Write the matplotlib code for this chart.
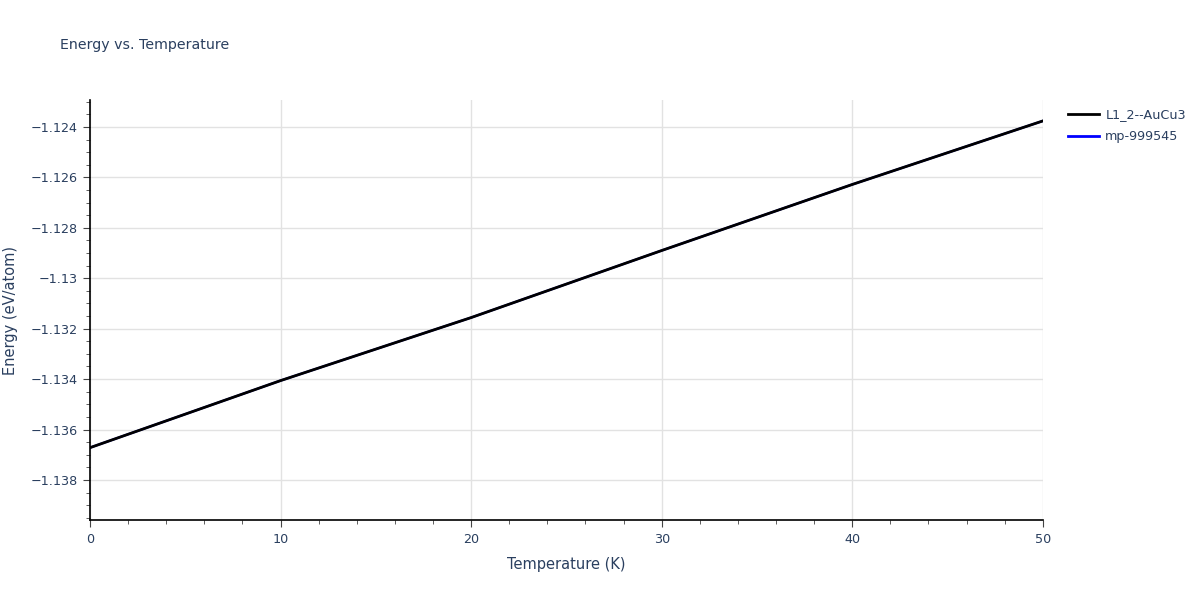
import matplotlib
matplotlib.use("Agg")
import matplotlib.pyplot as plt
from matplotlib.ticker import MultipleLocator, FuncFormatter

# values
temps = [0, 10, 20, 30, 40, 50]
energy_aucu3 = [-1.13672, -1.13406, -1.13156, -1.12890, -1.12628, -1.12376]
energy_mp = [-1.13672, -1.13406, -1.13156, -1.12890, -1.12628, -1.12376]

txt = "#2a3f5f"
plt.rcParams['font.family'] = ['DejaVu Sans']

fig = plt.figure(figsize=(12, 6), dpi=100)
ax = fig.add_axes([0.075, 0.1333, 0.794, 0.7])

ax.plot(temps, energy_mp, c='blue', lw=1.6, label='mp-999545', zorder=3)
ax.plot(temps, energy_aucu3, c='black', lw=2, label='L1_2--AuCu3', zorder=4)

ax.set_xlim(0, 50)
ax.set_ylim(-1.13959, -1.12293)
ax.xaxis.set_major_locator(MultipleLocator(10))
ax.xaxis.set_minor_locator(MultipleLocator(2))
ax.yaxis.set_major_locator(MultipleLocator(0.002))
ax.yaxis.set_minor_locator(MultipleLocator(0.0005))
ax.yaxis.set_major_formatter(FuncFormatter(lambda v, p: ('%g' % round(v, 4)).replace('-', '\u2212')))

ax.grid(True, which='major', color='#e2e2e2', lw=1)
ax.set_axisbelow(True)
for s in ['top', 'right']:
    ax.spines[s].set_visible(False)
for s in ['left', 'bottom']:
    ax.spines[s].set_color('black')
    ax.spines[s].set_linewidth(1.2)

ax.tick_params(which='major', length=5, color='#444444', labelcolor=txt, labelsize=9.2, pad=4)
ax.tick_params(which='minor', length=3, color='#444444')

ax.set_xlabel("Temperature (K)", color=txt, fontsize=10.5, labelpad=8)
ax.set_ylabel("Energy (eV/atom)", color=txt, fontsize=10.5, labelpad=9)
fig.text(0.05, 0.925, "Energy vs. Temperature", color=txt, fontsize=10.2, va='center')

handles, labels = ax.get_legend_handles_labels()
leg = fig.legend(handles[::-1], labels[::-1], loc='upper left', bbox_to_anchor=(0.886, 0.828),
                 frameon=False, fontsize=9.2, handlelength=2.4, labelspacing=0.7,
                 handletextpad=0.5, borderaxespad=0)
for t in leg.get_texts():
    t.set_color(txt)
for h in leg.get_lines():
    h.set_linewidth(2)

fig.savefig("out.png", dpi=100)
